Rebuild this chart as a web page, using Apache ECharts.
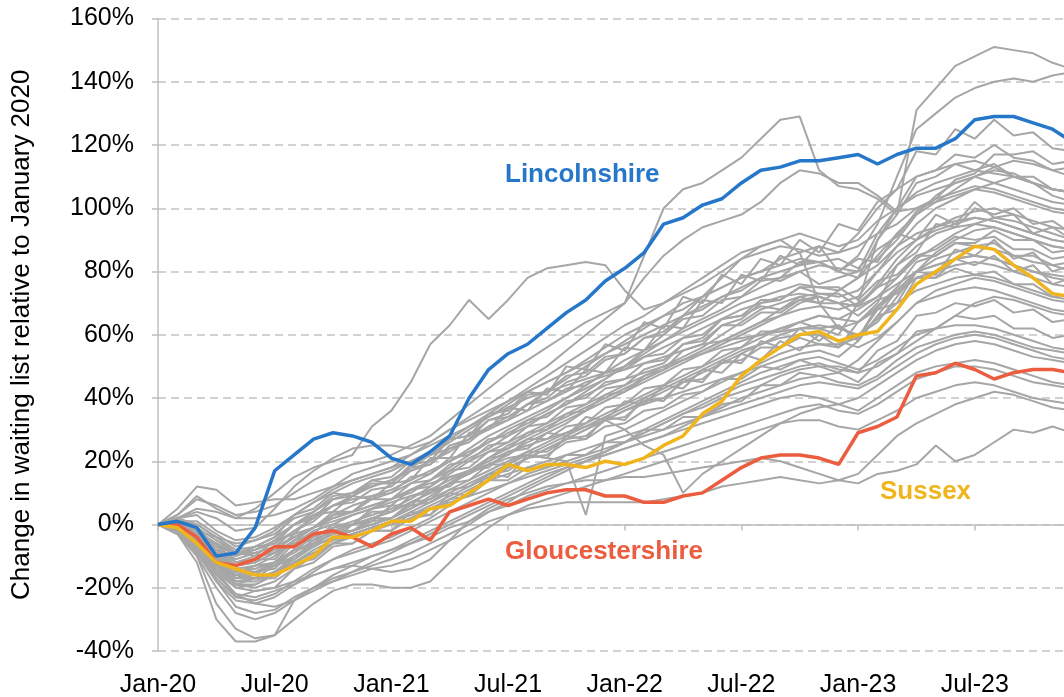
<!DOCTYPE html>
<html>
<head>
<meta charset="utf-8">
<script src="https://cdn.jsdelivr.net/npm/echarts@6/dist/echarts.min.js"></script>
<style>
  html, body { margin: 0; padding: 0; background: #fff; }
  #container { width: 1064px; height: 697px; }
</style>
</head>
<body>
<div id="container"></div>
<script>
var monthNames = ['Jan', 'Feb', 'Mar', 'Apr', 'May', 'Jun', 'Jul', 'Aug', 'Sep', 'Oct', 'Nov', 'Dec'];
var years = ['20', '21', '22', '23'];
var categories = [];
years.forEach(function (y) {
    monthNames.forEach(function (m) { categories.push(m + '-' + y); });
});

// highlighted areas, % change vs Jan 2020
var lincolnshire = [0, 1, -1, -10, -9, -1, 17, 22, 27, 29, 28, 26, 21, 19, 23, 28, 40, 49, 54, 57, 62, 67, 71, 77, 81, 86, 95, 97, 101, 103, 108, 112, 113, 115, 115, 116, 117, 114, 117, 119, 119, 122, 128, 129, 129, 127, 125, 121];
var sussex = [0, -1, -6, -12, -14, -16, -16, -13, -10, -4, -4, -2, 1, 1, 5, 6, 10, 14, 19, 17, 19, 19, 18, 20, 19, 21, 25, 28, 35, 39, 47, 52, 56, 60, 61, 58, 60, 61, 68, 76, 80, 84, 88, 87, 82, 78, 73, 72];
var gloucestershire = [0, 0, -4, -12, -13, -11, -7, -7, -3, -2, -4, -7, -3, -1, -5, 4, 6, 8, 6, 8, 10, 11, 11, 9, 9, 7, 7, 9, 10, 14, 18, 21, 22, 22, 21, 19, 29, 31, 34, 47, 48, 51, 49, 46, 48, 49, 49, 48];

// all other areas
var g01 = [0, 2, 5, 4, 2, 5, 10, 15, 18, 20, 22, 31, 36, 45, 57, 63, 71, 65, 71, 78, 81, 82, 83, 82, 74, 68, 70, 73, 76, 80, 84, 86, 88, 87, 85, 86, 88, 92, 95, 100, 103, 105, 107, 106, 104, 102, 100, 99];
var g02 = [0, 3, 8, 6, 3, 4, 6, 10, 14, 17, 19, 20, 22, 25, 28, 33, 38, 43, 48, 52, 56, 60, 64, 67, 70, 85, 100, 106, 108, 112, 116, 122, 128, 129, 112, 107, 106, 103, 98, 131, 138, 145, 148, 151, 150, 149, 146, 144];
var g03 = [0, 1, -2, -8, -10, -8, -5, 0, 4, 8, 10, 12, 14, 18, 22, 26, 30, 34, 38, 42, 45, 48, 52, 56, 60, 63, 66, 70, 72, 75, 78, 80, 82, 84, 83, 80, 85, 95, 110, 125, 130, 135, 138, 140, 141, 140, 142, 143];
var g04 = [0, 2, 4, 2, -2, -1, 5, 12, 17, 21, 24, 25, 25, 24, 26, 30, 34, 38, 42, 46, 50, 55, 60, 65, 70, 78, 85, 90, 94, 96, 98, 102, 108, 112, 111, 108, 108, 104, 99, 100, 102, 104, 106, 105, 103, 101, 99, 98];
var g05 = [0, 1, -3, -6, -10, -7, -4, 3, 5, 10, 9, 14, 13, 19, 20, 27, 28, 35, 36, 42, 41, 50, 49, 57, 55, 64, 62, 72, 70, 79, 76, 84, 82, 90, 86, 95, 93, 102, 106, 118, 117, 125, 122, 128, 123, 124, 119, 118];
var g06 = [0, 0, -4, -10, -14, -13, -10, -5, -1, 2, 4, 6, 8, 11, 14, 18, 22, 26, 30, 33, 36, 40, 43, 46, 50, 54, 58, 62, 65, 68, 72, 75, 78, 80, 82, 81, 80, 84, 90, 98, 104, 108, 110, 112, 111, 108, 106, 105];
var g07 = [0, -1, -5, -12, -17, -16, -12, -8, -4, -1, 1, 3, 5, 8, 12, 16, 20, 23, 26, 29, 32, 35, 38, 41, 44, 47, 50, 53, 56, 60, 64, 68, 70, 72, 73, 72, 74, 80, 88, 95, 100, 103, 106, 108, 110, 108, 104, 102];
var g08 = [0, 1, -1, -7, -9, -10, -5, -3, 3, 4, 9, 8, 13, 14, 21, 21, 29, 30, 37, 36, 43, 42, 49, 48, 56, 55, 63, 62, 71, 70, 79, 77, 85, 82, 88, 80, 84, 83, 92, 90, 98, 95, 102, 97, 98, 92, 94, 90];
var g09 = [0, -2, -7, -15, -20, -19, -15, -10, -6, -3, 0, 2, 4, 7, 10, 13, 17, 21, 24, 27, 30, 33, 36, 39, 42, 45, 48, 51, 54, 57, 60, 63, 66, 70, 72, 70, 69, 76, 84, 90, 94, 97, 99, 100, 98, 96, 94, 93];
var g10 = [0, 0, -3, -9, -13, -12, -9, -5, -1, 3, 6, 8, 10, 13, 16, 20, 24, 28, 31, 34, 37, 40, 44, 48, 52, 55, 58, 61, 64, 67, 70, 72, 74, 76, 75, 74, 78, 85, 92, 98, 102, 106, 110, 113, 115, 114, 112, 110];
var g11 = [0, -1, -6, -13, -18, -18, -15, -11, -7, -4, -2, 0, 2, 5, 8, 11, 14, 17, 20, 23, 26, 29, 32, 35, 38, 41, 44, 47, 50, 53, 56, 59, 62, 64, 66, 65, 68, 72, 78, 84, 88, 92, 95, 97, 96, 94, 92, 90];
var g12 = [0, -2, -9, -15, -23, -21, -20, -14, -12, -7, -6, -2, -2, 4, 3, 10, 9, 16, 15, 22, 21, 28, 27, 34, 33, 40, 39, 46, 45, 52, 51, 58, 56, 62, 58, 63, 59, 68, 70, 80, 79, 87, 85, 90, 84, 86, 80, 82];
var g13 = [0, 1, 0, -4, -8, -7, -4, 0, 3, 6, 8, 9, 11, 14, 17, 20, 23, 26, 29, 32, 35, 38, 41, 44, 46, 48, 50, 52, 54, 56, 58, 60, 62, 64, 66, 65, 64, 68, 74, 80, 84, 86, 88, 87, 85, 83, 82, 80];
var g14 = [0, -1, -6, -10, -16, -13, -12, -6, -5, 0, 0, 4, 4, 9, 10, 15, 16, 21, 22, 27, 27, 31, 32, 37, 38, 43, 44, 49, 50, 55, 56, 61, 61, 64, 62, 63, 58, 66, 68, 78, 78, 84, 82, 85, 80, 82, 76, 78];
var g15 = [0, -3, -9, -18, -24, -25, -23, -19, -15, -11, -8, -6, -4, -1, 2, 6, 10, 14, 18, 21, 24, 27, 30, 33, 36, 39, 42, 45, 48, 51, 54, 57, 60, 62, 63, 62, 64, 69, 74, 78, 80, 82, 83, 82, 80, 78, 76, 75];
var g16 = [0, 0, -3, -6, -12, -10, -9, -3, -1, 4, 4, 8, 8, 13, 14, 19, 20, 25, 26, 31, 32, 37, 38, 43, 44, 49, 51, 57, 59, 65, 66, 71, 71, 75, 73, 73, 69, 75, 78, 85, 87, 91, 90, 91, 87, 87, 84, 85];
var g17 = [0, -2, -7, -14, -19, -19, -16, -12, -8, -5, -3, -1, 1, 4, 7, 10, 13, 16, 19, 22, 25, 28, 31, 34, 37, 40, 43, 46, 49, 52, 55, 57, 59, 60, 60, 58, 56, 59, 64, 70, 74, 76, 78, 77, 75, 73, 71, 70];
var g18 = [0, -1, -5, -9, -15, -13, -13, -8, -7, -2, -2, 2, 2, 7, 8, 13, 14, 19, 19, 23, 23, 27, 28, 33, 34, 39, 40, 45, 46, 51, 52, 56, 56, 59, 57, 57, 59, 69, 75, 83, 85, 89, 89, 93, 90, 90, 86, 87];
var g19 = [0, 0, -3, -8, -12, -11, -8, -4, -1, 2, 4, 6, 8, 11, 13, 15, 17, 19, 21, 22, 21, 20, 3, 28, 30, 33, 36, 39, 42, 45, 48, 51, 54, 56, 57, 56, 60, 65, 70, 74, 76, 78, 79, 78, 76, 74, 72, 71];
var g20 = [0, -2, -7, -12, -19, -17, -17, -12, -11, -6, -6, -2, -2, 2, 3, 8, 9, 14, 14, 18, 18, 22, 22, 26, 26, 30, 30, 34, 34, 38, 39, 44, 44, 48, 47, 48, 45, 51, 54, 61, 62, 66, 65, 66, 62, 62, 59, 60];
var g21 = [0, 1, -2, -6, -9, -9, -7, -4, -1, 1, 3, 5, 7, 9, 11, 14, 17, 20, 23, 25, 27, 29, 31, 33, 30, 25, 22, 10, 16, 20, 24, 28, 32, 35, 37, 38, 40, 44, 48, 52, 55, 57, 58, 57, 55, 53, 52, 51];
var g22 = [0, -2, -8, -17, -23, -24, -22, -18, -14, -11, -9, -7, -5, -2, 1, 4, 7, 10, 13, 16, 18, 20, 22, 24, 26, 28, 30, 32, 34, 36, 38, 40, 42, 44, 45, 44, 43, 46, 50, 54, 57, 59, 60, 59, 57, 55, 53, 52];
var g23 = [0, -1, -5, -12, -17, -17, -15, -12, -9, -6, -4, -2, 0, 2, 5, 8, 11, 14, 16, 18, 20, 22, 24, 26, 28, 30, 33, 36, 39, 42, 45, 48, 50, 52, 53, 51, 49, 52, 56, 60, 62, 63, 63, 62, 60, 58, 56, 55];
var g24 = [0, -3, -10, -20, -28, -30, -28, -24, -20, -16, -13, -10, -8, -5, -2, 1, 4, 7, 10, 13, 16, 18, 20, 22, 24, 26, 28, 31, 34, 37, 40, 42, 44, 46, 47, 45, 44, 47, 52, 56, 58, 60, 61, 60, 58, 56, 55, 54];
var g25 = [0, -3, -12, -30, -37, -37, -35, -24, -20, -18, -16, -14, -13, -11, -8, -5, -2, 1, 3, 5, 6, 7, 7, 7, 7, 7, 8, 9, 10, 12, 13, 14, 15, 14, 13, 14, 13, 16, 17, 19, 25, 20, 22, 26, 30, 29, 31, 29];
var g26 = [0, -2, -10, -25, -33, -36, -35, -30, -25, -21, -19, -19, -20, -20, -18, -12, -6, -1, 3, 6, 8, 10, 12, 14, 16, 18, 20, 22, 24, 26, 28, 30, 32, 33, 33, 31, 30, 33, 36, 40, 42, 44, 45, 44, 42, 40, 39, 38];
var g27 = [0, -1, -6, -14, -20, -21, -20, -18, -16, -14, -13, -14, -15, -14, -11, -5, 1, 5, 8, 10, 12, 13, 14, 14, 15, 15, 16, 17, 18, 19, 20, 21, 20, 18, 16, 14, 16, 22, 28, 32, 35, 38, 40, 42, 41, 39, 37, 36];
var g28 = [0, -2, -7, -15, -22, -25, -26, -24, -21, -18, -15, -12, -9, -6, -3, 0, 3, 6, 9, 12, 15, 18, 20, 22, 24, 26, 28, 30, 32, 34, 36, 38, 40, 41, 40, 38, 36, 40, 44, 48, 50, 51, 52, 51, 49, 47, 45, 44];
var g29 = [0, 5, 12, 11, 6, 7, 8, 8, 10, 12, 14, 16, 18, 22, 26, 30, 33, 36, 39, 42, 45, 48, 51, 54, 57, 60, 63, 66, 69, 72, 75, 78, 80, 82, 83, 80, 78, 82, 88, 92, 94, 96, 97, 96, 94, 92, 90, 89];
var g30 = [0, 3, 9, 5, 2, 2, 3, 5, 8, 12, 16, 18, 20, 22, 25, 28, 31, 34, 37, 40, 42, 44, 46, 48, 50, 53, 56, 59, 62, 65, 68, 70, 72, 73, 72, 70, 69, 72, 76, 80, 82, 84, 85, 84, 82, 80, 78, 77];
var g31 = [0, 2, 3, -2, -5, -4, -1, 3, 7, 11, 14, 16, 18, 20, 22, 24, 27, 30, 33, 36, 39, 42, 45, 47, 49, 51, 53, 55, 57, 58, 59, 60, 61, 62, 62, 60, 70, 90, 100, 105, 108, 110, 112, 111, 110, 108, 106, 105];
var g32 = [0, 1, -3, -9, -14, -15, -13, -10, -7, -4, -2, 0, 2, 5, 9, 13, 17, 21, 25, 28, 31, 34, 37, 40, 43, 46, 49, 52, 55, 58, 61, 64, 66, 68, 69, 68, 70, 75, 82, 88, 92, 94, 95, 94, 92, 90, 88, 87];
var g33 = [0, 0, -5, -10, -17, -15, -14, -8, -6, -1, 0, 5, 6, 11, 12, 17, 18, 23, 24, 29, 30, 35, 36, 41, 42, 47, 49, 55, 57, 63, 65, 70, 71, 75, 75, 75, 71, 77, 79, 85, 85, 89, 88, 89, 85, 85, 82, 83];
var g34 = [0, -1, -5, -8, -13, -11, -11, -5, -3, 3, 4, 9, 10, 15, 16, 21, 22, 27, 28, 33, 34, 39, 40, 45, 46, 51, 52, 57, 58, 63, 63, 67, 67, 71, 70, 70, 66, 71, 73, 78, 78, 81, 79, 80, 76, 76, 72, 73];
var g35 = [0, -2, -6, -13, -19, -20, -18, -14, -10, -6, -3, -1, 1, 3, 6, 9, 12, 15, 18, 21, 24, 27, 30, 33, 36, 38, 40, 42, 44, 46, 48, 50, 52, 54, 55, 53, 58, 66, 74, 80, 82, 84, 85, 84, 82, 80, 79, 78];
var g36 = [0, 1, -2, -4, -9, -7, -6, 0, 2, 8, 9, 13, 13, 18, 19, 25, 27, 33, 35, 41, 42, 47, 48, 53, 54, 59, 60, 65, 66, 71, 72, 77, 78, 83, 83, 84, 81, 87, 91, 99, 103, 109, 111, 117, 117, 118, 114, 115];
var g37 = [0, -1, -5, -11, -16, -17, -15, -12, -9, -6, -3, -1, 1, 3, 5, 7, 9, 11, 13, 15, 17, 19, 21, 23, 26, 29, 32, 35, 38, 41, 44, 46, 48, 50, 51, 49, 48, 50, 54, 58, 62, 66, 70, 72, 71, 69, 67, 66];
var g38 = [0, 1, -2, -7, -11, -9, -7, -2, 1, 6, 7, 11, 12, 17, 19, 24, 26, 31, 33, 38, 40, 45, 47, 52, 54, 59, 61, 66, 68, 72, 74, 78, 77, 80, 76, 78, 80, 92, 100, 110, 112, 117, 116, 120, 116, 115, 112, 113];
var g39 = [0, -1, -4, -9, -13, -12, -9, -6, -2, 0, 3, 5, 8, 10, 14, 17, 21, 24, 28, 31, 35, 38, 42, 46, 50, 55, 60, 66, 72, 78, 84, 88, 90, 86, 70, 62, 60, 64, 72, 80, 86, 90, 93, 94, 92, 90, 88, 87];
var g40 = [0, -2, -8, -18, -26, -28, -27, -23, -20, -17, -15, -13, -11, -9, -6, -3, 0, 4, 7, 11, 14, 17, 20, 23, 26, 29, 32, 35, 37, 40, 42, 44, 47, 49, 50, 48, 52, 58, 64, 70, 72, 74, 75, 74, 72, 70, 68, 67];
var g41 = [0, 0, -4, -12, -18, -17, -13, -11, -6, -5, 0, 1, 6, 6, 11, 12, 17, 18, 23, 24, 29, 28, 34, 33, 39, 38, 44, 43, 49, 48, 54, 52, 58, 55, 60, 56, 64, 70, 82, 86, 95, 94, 100, 98, 100, 95, 96, 92];
var g42 = [0, 1, 1, -3, -7, -5, -3, 2, 4, 9, 10, 14, 15, 20, 22, 27, 28, 33, 34, 38, 39, 43, 44, 48, 49, 53, 54, 59, 60, 65, 66, 69, 68, 72, 70, 74, 78, 90, 98, 108, 110, 114, 112, 114, 110, 110, 106, 105];
var g43 = [0, -1, -7, -16, -22, -23, -21, -19, -16, -14, -12, -10, -8, -6, -4, -1, 1, 4, 6, 9, 11, 13, 15, 17, 19, 21, 23, 25, 27, 29, 31, 33, 35, 37, 38, 36, 35, 38, 42, 46, 48, 50, 50, 49, 47, 45, 44, 43];
var g44 = [0, 2, 0, -4, -6, -5, -2, 3, 7, 10, 13, 15, 17, 20, 23, 27, 31, 35, 39, 43, 47, 51, 55, 59, 63, 66, 70, 74, 78, 82, 86, 88, 90, 92, 90, 88, 90, 96, 100, 104, 106, 108, 110, 108, 106, 104, 102, 101];
var g45 = [0, -1, -5, -12, -16, -15, -12, -9, -5, -2, 0, 2, 4, 7, 10, 13, 16, 19, 22, 26, 29, 32, 36, 39, 42, 46, 49, 52, 55, 58, 61, 64, 68, 71, 72, 70, 72, 80, 86, 90, 93, 95, 97, 96, 94, 92, 90, 89];
var g46 = [0, 0, -3, -10, -15, -14, -12, -8, -6, -3, -2, 1, 2, 6, 7, 11, 12, 16, 17, 21, 22, 26, 27, 31, 32, 36, 37, 41, 42, 46, 46, 50, 49, 52, 50, 50, 48, 55, 58, 66, 67, 70, 69, 71, 67, 68, 64, 65];
var g47 = [0, 1, -1, -5, -9, -8, -6, -2, 2, 6, 9, 12, 14, 17, 20, 23, 27, 31, 34, 38, 42, 46, 50, 54, 58, 62, 66, 68, 72, 75, 78, 80, 84, 86, 88, 86, 92, 100, 106, 110, 112, 114, 115, 113, 110, 108, 106, 105];

var grayLines = [g01, g02, g03, g04, g05, g06, g07, g08, g09, g10, g11, g12, g13, g14, g15, g16, g17, g18, g19,
    g20, g21, g22, g23, g24, g25, g26, g27, g28, g29, g30, g31, g32, g33, g34, g35, g36, g37, g38, g39,
    g40, g41, g42, g43, g44, g45, g46, g47];

var blue = '#2677c9';
var yellow = '#f0b41c';
var red = '#ec5c3f';
var gray = '#a6a6a6';
var font = '"Liberation Sans", Arial, sans-serif';

var series = [];
grayLines.forEach(function (d) {
    series.push({
        type: 'line', data: d, symbol: 'none', silent: true,
        lineStyle: { color: gray, width: 2 }
    });
});
series.push({ name: 'Gloucestershire', type: 'line', data: gloucestershire, symbol: 'none', lineStyle: { color: red, width: 3.5 } });
series.push({ name: 'Sussex', type: 'line', data: sussex, symbol: 'none', lineStyle: { color: yellow, width: 3.5 } });
series.push({ name: 'Lincolnshire', type: 'line', data: lincolnshire, symbol: 'none', lineStyle: { color: blue, width: 3.5 } });

function label(text, x, y, color) {
    return {
        type: 'text', left: x, top: y - 15,
        style: { text: text, fill: color, font: 'bold 26px ' + font }
    };
}

var myChart = echarts.init(document.getElementById('container'));
myChart.setOption({
    animation: false,
    backgroundColor: '#fff',
    grid: { left: 158, top: 18.5, bottom: 46, right: -8, containLabel: false, outerBoundsMode: 'none' },
    xAxis: {
        type: 'category',
        data: categories,
        boundaryGap: false,
        axisLine: { onZero: true, lineStyle: { color: '#bfbfbf', width: 1.5 } },
        axisTick: { show: true, interval: 5, length: 6, lineStyle: { color: '#bfbfbf', width: 1.5 } },
        axisLabel: { interval: 5, margin: 22, color: '#000', fontSize: 25, fontFamily: font },
        splitLine: { show: false }
    },
    yAxis: {
        type: 'value',
        min: -40, max: 160, interval: 20,
        name: 'Change in waiting list relative to January 2020',
        nameLocation: 'middle',
        nameRotate: 90,
        nameGap: 123,
        nameTextStyle: { color: '#000', fontSize: 26, fontFamily: font },
        axisLine: { show: true, lineStyle: { color: '#bfbfbf', width: 1.5 } },
        axisTick: { show: true, length: 6, lineStyle: { color: '#bfbfbf', width: 1.5 } },
        axisLabel: { formatter: '{value}%', margin: 24, color: '#000', fontSize: 25, fontFamily: font },
        splitLine: { show: true, lineStyle: { color: '#c4c4c4', width: 1.5, type: [8, 5] } }
    },
    graphic: [
        label('Lincolnshire', 505, 177, blue),
        label('Sussex', 880, 494, yellow),
        label('Gloucestershire', 505, 554, red)
    ],
    series: series
});
</script>
</body>
</html>
